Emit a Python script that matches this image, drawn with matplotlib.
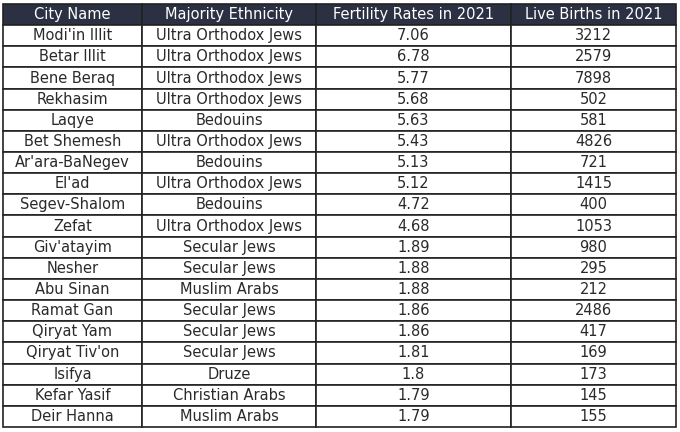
import matplotlib.pyplot as plt

columns = ["City Name", "Majority Ethnicity", "Fertility Rates in 2021", "Live Births in 2021"]
cities = ["Modi'in Illit", "Betar Illit", "Bene Beraq", "Rekhasim", "Laqye", "Bet Shemesh",
          "Ar'ara-BaNegev", "El'ad", "Segev-Shalom", "Zefat", "Giv'atayim", "Nesher",
          "Abu Sinan", "Ramat Gan", "Qiryat Yam", "Qiryat Tiv'on", "Isifya", "Kefar Yasif",
          "Deir Hanna"]
ethnicity = ["Ultra Orthodox Jews", "Ultra Orthodox Jews", "Ultra Orthodox Jews",
             "Ultra Orthodox Jews", "Bedouins", "Ultra Orthodox Jews", "Bedouins",
             "Ultra Orthodox Jews", "Bedouins", "Ultra Orthodox Jews", "Secular Jews",
             "Secular Jews", "Muslim Arabs", "Secular Jews", "Secular Jews", "Secular Jews",
             "Druze", "Christian Arabs", "Muslim Arabs"]
fertility = ["7.06", "6.78", "5.77", "5.68", "5.63", "5.43", "5.13", "5.12", "4.72", "4.68",
             "1.89", "1.88", "1.88", "1.86", "1.86", "1.81", "1.8", "1.79", "1.79"]
births = [3212, 2579, 7898, 502, 581, 4826, 721, 1415, 400, 1053, 980, 295, 212, 2486,
          417, 169, 173, 145, 155]

W, H = 680, 432
fig = plt.figure(figsize=(W / 100, H / 100), dpi=100)
ax = fig.add_axes([0, 0, 1, 1])
ax.axis('off')

rows = [[c, e, f, str(b)] for c, e, f, b in zip(cities, ethnicity, fertility, births)]
col_px = [139, 174, 195, 165]
total = sum(col_px)

left, right, top, bottom = 3, 676, 4, 427
tbl = ax.table(cellText=rows, colLabels=columns, cellLoc='center',
               colWidths=[w / total for w in col_px],
               bbox=[left / W, 1 - bottom / H, (right - left) / W, (bottom - top) / H])
tbl.auto_set_font_size(False)
tbl.set_fontsize(10.5)

for (r, c), cell in tbl.get_celld().items():
    cell.set_edgecolor('#222222')
    cell.set_linewidth(1.2)
    cell.get_text().set_color('#2a2a2a')
    if r == 0:
        cell.set_facecolor('#2c3043')
        cell.get_text().set_color('white')
    else:
        cell.set_facecolor('white')

fig.savefig('out.png', dpi=100)
